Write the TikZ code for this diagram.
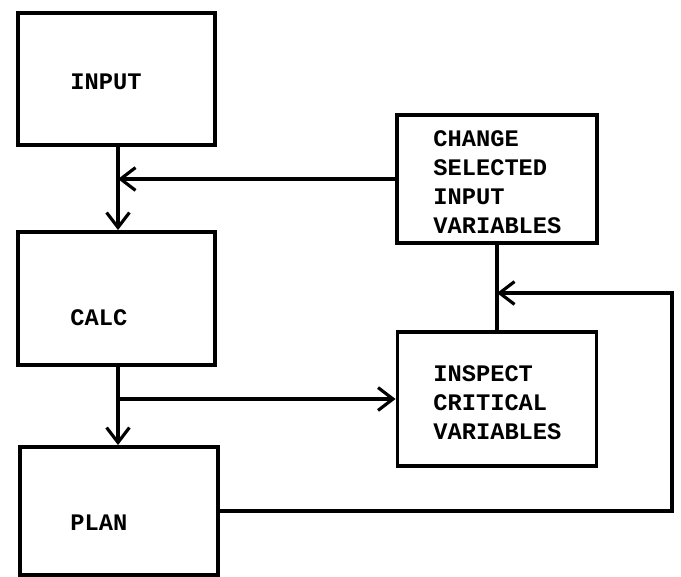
\documentclass[tikz,border=0pt]{standalone}
\usepackage{fontspec}
\setmonofont{Liberation Mono}
\usepackage{tikz}
\usetikzlibrary{positioning,arrows.meta}

\tikzset{
  blk/.style={draw,line width=2.2pt,inner sep=0pt},
  lbl/.style={anchor=west,align=left,inner sep=0pt,
    font=\fontsize{13.5}{16.5}\selectfont\ttfamily\bfseries},
  arr/.style={line width=1.8pt,-{Straight Barb[length=8.5pt,width=13pt,line width=1.8pt]}},
  ln/.style={line width=1.8pt}
}

\begin{document}
\begin{tikzpicture}[x=0.02cm,y=-0.02cm]
  \useasboundingbox (0,0) rectangle (681,577);
  % left column
  \node[blk,minimum width=3.94cm,minimum height=2.64cm] (input) at (116.5,79) {};
  \node[blk,minimum width=3.94cm,minimum height=2.66cm] (calc) at (116.5,298.5) {};
  \node[blk,minimum width=3.96cm,minimum height=2.56cm] (plan) at (119,511) {};
  % right column
  \node[blk,minimum width=4cm,minimum height=2.56cm] (change) at (497,179) {};
  \node[blk,minimum width=3.98cm,minimum height=2.68cm] (inspect) at (497,399) {};
  % texts
  \node[lbl] (tinput) at (70,82) {INPUT};
  \node[lbl] (tcalc) at (70,318) {CALC};
  \node[lbl] (tplan) at (70,523) {PLAN};
  \node[lbl] (tchange) at (433,182) {CHANGE\\SELECTED\\INPUT\\VARIABLES};
  \node[lbl] (tinspect) at (433,403) {INSPECT\\CRITICAL\\VARIABLES};
  % flow
  \draw[arr] (input.south -| 118,0) -- (calc.north -| 118,0);
  \draw[arr] (change.west) -- (change.west -| 118,0);
  \draw[arr] (calc.south -| 118,0) -- (plan.north -| 118,0);
  \draw[arr] (inspect.west -| 118,0) -- (inspect.west);
  \draw[ln] (inspect.north) -- (change.south);
  \coordinate (back) at (672,293);
  \draw[arr] (plan.east) -| (back) -- (back -| inspect.north);
\end{tikzpicture}
\end{document}
